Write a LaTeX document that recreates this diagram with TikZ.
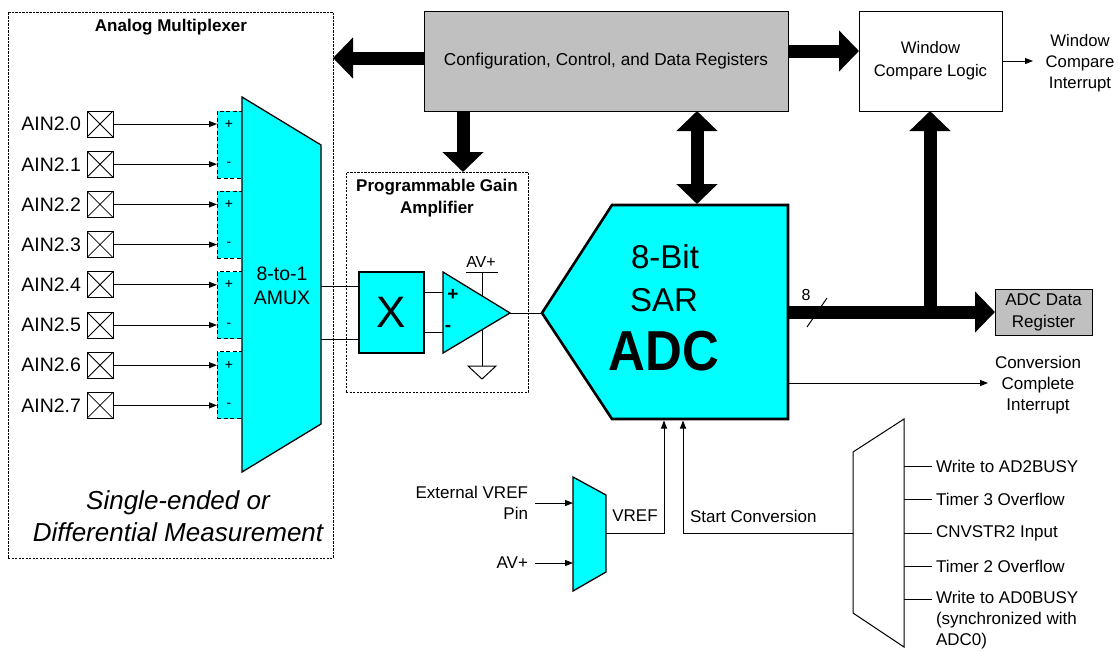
\documentclass[tikz,border=0pt]{standalone}
\usepackage{fontspec}
\setmainfont{Liberation Sans}
\usetikzlibrary{arrows.meta,fit}
\definecolor{cy}{HTML}{00FFFF}
\definecolor{gr}{HTML}{C0C0C0}
\begin{document}
\begin{tikzpicture}[x=1pt,y=-1pt,
  every node/.style={inner sep=0pt, outer sep=0pt},
  tl/.style={line width=1pt},
  arr/.style={tl,-{Triangle[length=8pt,width=6pt]}},
  bigarr/.style={line width=13pt,-{Triangle[length=20pt,width=40pt]}},
  bigdbl/.style={line width=13pt,{Triangle[length=20pt,width=40pt]}-{Triangle[length=20pt,width=40pt]}},
  dbox/.style={draw,line width=0.8pt,dash pattern=on 2.2pt off 1.3pt},
  pairbox/.style={draw,fill=cy,line width=0.9pt,dash pattern=on 4pt off 2.5pt},
  pinbox/.style={draw,line width=1pt,minimum size=26pt,
    path picture={\draw[line width=0.8pt] (path picture bounding box.north west) -- (path picture bounding box.south east)
      (path picture bounding box.north east) -- (path picture bounding box.south west);}},
  f17/.style={font=\fontsize{17}{21}\selectfont},
  ainl/.style={font=\fontsize{19.5}{23}\selectfont},
  ttl/.style={font=\fontsize{17}{22}\selectfont\bfseries, align=center},
  cyshape/.style={draw,fill=cy,line width=1.3pt,line join=miter}
]
\useasboundingbox (0,0) rectangle (1119,651);

% ---------- Analog multiplexer ----------
\node[dbox, minimum width=325, minimum height=546, anchor=north west] (ambox) at (8,12) {};
\node[ttl] (amt) at (171,27) {Analog Multiplexer};

\foreach \k in {0,...,3} {
  \pgfmathsetmacro\ta{111+80.3*\k}
  \node[pairbox, minimum width=25, minimum height=67, anchor=north west] (pair\k) at (217,\ta) {};
  \pgfmathsetmacro\pa{124+80.4*\k}
  \pgfmathsetmacro\pb{164.2+80.4*\k}
  \node[font=\fontsize{14}{14}\selectfont] (plus\k) at (229,\pa) {+};
  \node[font=\fontsize{14}{14}\selectfont] (minus\k) at (229,\pb) {-};
}
\foreach \i in {0,...,7} {
  \pgfmathsetmacro\yy{124+40.2*\i}
  \pgfmathtruncatemacro\pp{int(\i/2)}
  \node[pinbox] (pin\i) at (100,\yy) {};
  \node[ainl, anchor=east] (ain\i) at (81,\yy) {AIN2.\i};
  \draw[arr] (pin\i.east) -- (pin\i.east -| pair\pp.west);
}

\draw[cyshape] (242,97) -- (321,145) -- (321,424) -- (242,472) -- cycle;
\node[align=center, font=\fontsize{19.5}{24}\selectfont] (amuxt) at (282,286) {8-to-1\\AMUX};
\coordinate (amo1) at (321,286);
\coordinate (amo2) at (321,339);

\node[font=\fontsize{26}{32}\selectfont\itshape, align=center] (seo) at (178,516) {Single-ended or\\Differential Measurement};

% ---------- PGA ----------
\node[dbox, minimum width=182, minimum height=220, anchor=north west] (pga) at (346,172) {};
\node[ttl] (pgat) at (437,198) {Programmable Gain\\Amplifier};
\node[cyshape, minimum width=65, minimum height=81, anchor=north west, font=\fontsize{44}{44}\selectfont] (mulx) at (359,272) {X};
\draw[tl] (amo1) -- (amo1 -| mulx.west);
\draw[tl] (amo2) -- (amo2 -| mulx.west);

\coordinate (opp) at (443,292);
\coordinate (opm) at (443,332);
\coordinate (opo) at (510,313);
\coordinate (avtop) at (482,272);
\coordinate (gnd) at (482,366);
\draw[tl] (466,272) -- (498,272);
\draw[tl] (avtop) -- (gnd);
\draw[tl] (468,366) -- (496,366) -- (482,379) -- cycle;
\node[font=\fontsize{16}{16}\selectfont] (avp) at (481,262) {AV+};
\draw[cyshape] (443,272) -- (opo) -- (443,353) -- cycle;
\node[font=\fontsize{19}{19}\selectfont\bfseries] (opplus) at (453,295) {+};
\node[font=\fontsize{19}{19}\selectfont\bfseries] (opminus) at (448,328) {-};
\draw[tl] (mulx.east |- opp) -- (opp);
\draw[tl] (mulx.east |- opm) -- (opm);

% ---------- ADC ----------
\coordinate (adcw) at (542,313);
\draw[draw,fill=cy,line width=2.6pt,line join=miter] (adcw) -- (612,205) -- (788,205) -- (788,419) -- (612,419) -- cycle;
\draw[tl] (opo) -- (adcw);
\node[font=\fontsize{33}{33}\selectfont, anchor=base] (adc1) at (665,268) {8-Bit};
\node[font=\fontsize{33}{33}\selectfont, anchor=base] (adc2) at (664,311) {SAR};
\node[anchor=base] (adc3) at (664,370) {\scalebox{1.04}[1.15]{\fontsize{49}{49}\selectfont\bfseries ADC}};

% ---------- registers ----------
\node[draw, fill=gr, line width=1pt, minimum width=364, minimum height=100, anchor=north west, font=\fontsize{17.2}{21}\selectfont] (cfg) at (424,11) {Configuration, Control, and Data Registers};
\node[draw, fill=white, line width=1pt, minimum width=143, minimum height=100, anchor=north west, align=center, font=\fontsize{16.7}{23}\selectfont] (win) at (859,11) {Window\\Compare Logic};
\node[draw, fill=gr, line width=1pt, minimum width=97, minimum height=46, anchor=north west, align=center, font=\fontsize{17}{22}\selectfont] (adr) at (995,289) {ADC Data\\Register};

% thick arrows
\coordinate (la) at (0,58);
\draw[bigarr] (cfg.west |- la) -- (ambox.east |- la);
\coordinate (ra) at (0,51);
\draw[bigarr] (cfg.east |- ra) -- (win.west |- ra);
\coordinate (da) at (463,0);
\draw[bigarr] (da |- cfg.south) -- (da |- pga.north);
\coordinate (adctop) at (697,204);
\draw[bigdbl] (adctop |- cfg.south) -- (adctop);

% bus
\draw[tl] (807,327) -- (827,298);
\node[font=\fontsize{16}{16}\selectfont] (eight) at (806,295) {8};
\coordinate (busst) at (788,312);
\draw[bigarr] (busst) -- (adr.west);
\coordinate (wup) at (930,312);
\draw[bigarr] (wup) -- (wup |- win.south);

% window interrupt
\node[align=center, font=\fontsize{16.7}{21}\selectfont] (wci) at (1080,63) {Window\\Compare\\Interrupt};
\coordinate (wciin) at (1033,61);
\draw[arr] (win.east) -- (wciin);

% conversion complete
\node[align=center, f17] (cci) at (1038,385) {Conversion\\Complete\\Interrupt};
\coordinate (ccout) at (788,383);
\coordinate (ccin) at (988,383);
\draw[arr] (ccout) -- (ccin);

% ---------- VREF mux ----------
\draw[cyshape] (573,477) -- (606,495) -- (606,572) -- (573,591) -- cycle;
\node[f17, align=right, anchor=east] (evref) at (528,502.5) {External VREF\\Pin};
\node[f17, anchor=east] (avin) at (528,563) {AV+};
\coordinate (vin1) at (573,503);
\coordinate (vin2) at (573,563);
\coordinate (vstart) at (535,0);
\draw[arr] (vin1 -| vstart) -- (vin1);
\draw[arr] (vin2 -| vstart) -- (vin2);
\coordinate (vmo) at (606,533);
\coordinate (adcb1) at (664,420.5);
\draw[arr] (vmo) -| (adcb1);
\node[f17] (vreft) at (635,516) {VREF};

% ---------- start conversion mux ----------
\draw[draw, fill=white, line width=1pt] (853,452) -- (904,419) -- (904,647) -- (853,613) -- cycle;
\coordinate (smi) at (853,533);
\coordinate (adcb2) at (683,420.5);
\draw[arr] (smi) -| (adcb2);
\node[f17, anchor=west] (sct) at (690,516) {Start Conversion};

\coordinate (smr) at (904,0);
\node[f17, anchor=west] (s1) at (936,466) {Write to AD2BUSY};
\node[f17, anchor=west] (s2) at (936,499) {Timer 3 Overflow};
\node[f17, anchor=west] (s3) at (936,533) {CNVSTR2 Input};
\node[f17, anchor=west] (s4) at (936,566) {Timer 2 Overflow};
\node[f17, anchor=west, align=left] (s5) at (936,620) {Write to AD0BUSY\\(synchronized with\\ADC0)};
\foreach \s/\yy in {1/466,2/499,3/533,4/566,5/599} {
  \coordinate (in\s) at (932,\yy);
  \draw[tl] (in\s -| smr) -- (in\s);
}
\end{tikzpicture}
\end{document}
